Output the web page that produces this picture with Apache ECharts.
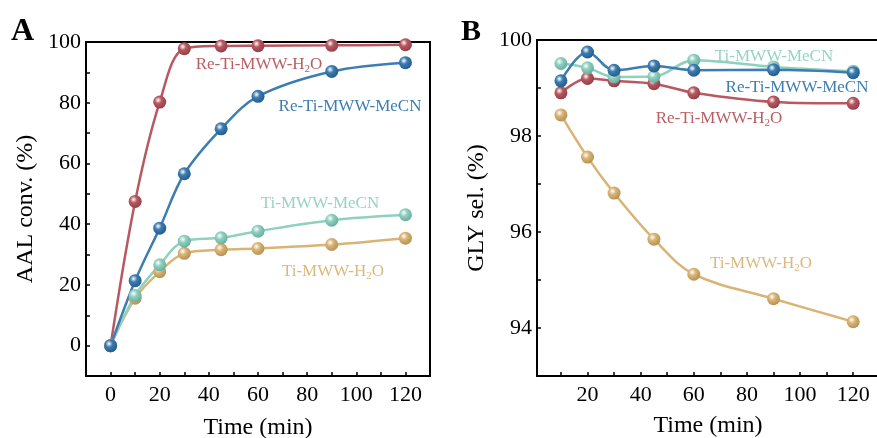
<!DOCTYPE html>
<html><head><meta charset="utf-8">
<script src="https://cdn.jsdelivr.net/npm/echarts@6/dist/echarts.min.js"></script>
<style>html,body{margin:0;padding:0;background:#fff;overflow:hidden}#c{width:877px;height:438px}</style>
</head><body><div id="c"></div>
<script>
// ---- data ----
const timeA = [0, 10, 20, 30, 45, 60, 90, 120];
const aReH2O  = [0, 47.5, 80.2, 97.8, 98.7, 98.8, 98.9, 99.1];
const aReMeCN = [0, 21.4, 38.7, 56.6, 71.4, 82.1, 90.3, 93.2];
const aTiMeCN = [0, 16.5, 26.6, 34.4, 35.5, 37.7, 41.3, 43.1];
const aTiH2O  = [0, 15.6, 24.4, 30.4, 31.6, 32.0, 33.3, 35.4];

const timeB = [10, 20, 30, 45, 60, 90, 120];
const bTiMeCN = [99.51, 99.42, 99.23, 99.24, 99.58, 99.44, 99.35];
const bReMeCN = [99.15, 99.75, 99.37, 99.46, 99.37, 99.38, 99.32];
const bReH2O  = [98.90, 99.20, 99.15, 99.09, 98.90, 98.71, 98.68];
const bTiH2O  = [98.44, 97.56, 96.81, 95.85, 95.12, 94.61, 94.13];

const xTicksA = [0, 20, 40, 60, 80, 100, 120];
const yTicksA = [0, 20, 40, 60, 80, 100];
const xTicksB = [20, 40, 60, 80, 100, 120];
const yTicksB = [94, 96, 98, 100];

// ---- styling ----
const FONT = "'Liberation Serif','Times New Roman',serif";
const C = {
  red:  {base:'#b85860', dark:'#8a3a42', text:'#b85e64'},
  blue: {base:'#3c7db2', dark:'#1f5584', text:'#3c7db2'},
  teal: {base:'#8fd0bf', dark:'#5fa898', text:'#97d3c5'},
  tan:  {base:'#d9b474', dark:'#b08a4c', text:'#dbb97d'}
};
function sphere(c){
  return {type:'radial', x:0.38, y:0.35, r:0.75, colorStops:[
    {offset:0, color:'#ffffff'}, {offset:0.35, color:c.base}, {offset:1, color:c.dark}]};
}
function zip(xs, ys){ return xs.map((x,i)=>[x, ys[i]]); }
function ser(xi, yi, xs, ys, c, smooth){
  return {type:'line', xAxisIndex:xi, yAxisIndex:yi, data:zip(xs, ys), smooth:smooth,
    symbol:'circle', symbolSize:13, showSymbol:true,
    lineStyle:{color:c.base, width:2.5}, itemStyle:{color:sphere(c), borderWidth:0},
    z:3, silent:true, animation:false};
}
function tenSteps(a, b){ const r=[]; for(let v=a; v<=b; v+=10) r.push(v); return r; }
function oneSteps(a, b){ const r=[]; for(let v=a; v<=b; v+=1) r.push(v); return r; }

const axisLine = {show:true, onZero:false, lineStyle:{color:'#000', width:2}};
const lbl = {color:'#000', fontFamily:FONT, fontSize:22};
const nameSt = {color:'#000', fontFamily:FONT, fontSize:24};

const option = {
  animation:false,
  grid:[
    {left:86, top:42, right:447, bottom:62, show:true, borderColor:'#000', borderWidth:2, outerBoundsMode:'none', containLabel:false},
    {left:537, top:40, right:-40, bottom:62, show:false, outerBoundsMode:'none', containLabel:false}
  ],
  xAxis:[
    {gridIndex:0, type:'value', min:-10, max:130, axisLine:axisLine,
     axisTick:{show:true, inside:true, length:4, lineStyle:{color:'#000', width:1.5}, customValues:tenSteps(0,120)},
     axisLabel:Object.assign({margin:8, customValues:xTicksA}, lbl),
     splitLine:{show:false}, name:'Time (min)', nameLocation:'middle', nameGap:40, nameTextStyle:nameSt},
    {gridIndex:1, type:'value', min:1, max:144, axisLine:axisLine,
     axisTick:{show:true, inside:true, length:4, lineStyle:{color:'#000', width:1.5}, customValues:tenSteps(10,120)},
     axisLabel:Object.assign({margin:8, customValues:xTicksB}, lbl),
     splitLine:{show:false}},
    {gridIndex:1, type:'value', position:'top', min:1, max:144, axisLine:axisLine,
     axisTick:{show:false}, axisLabel:{show:false}, splitLine:{show:false}}
  ],
  yAxis:[
    {gridIndex:0, type:'value', min:-10, max:100, axisLine:axisLine,
     axisTick:{show:true, inside:true, length:4, lineStyle:{color:'#000', width:1.5}, customValues:tenSteps(0,100)},
     axisLabel:Object.assign({margin:5, customValues:yTicksA}, lbl),
     splitLine:{show:false}, name:'AAL conv. (%)', nameLocation:'middle', nameGap:48, nameTextStyle:nameSt},
    {gridIndex:1, type:'value', min:93, max:100, axisLine:axisLine,
     axisTick:{show:true, inside:true, length:4, lineStyle:{color:'#000', width:1.5}, customValues:oneSteps(94,100)},
     axisLabel:Object.assign({margin:5, customValues:yTicksB}, lbl),
     splitLine:{show:false}, name:'GLY sel. (%)', nameLocation:'middle', nameGap:48, nameTextStyle:nameSt}
  ],
  series:[
    ser(0,0,timeA,aReH2O,C.red,0.35),
    ser(0,0,timeA,aTiH2O,C.tan,0.35),
    ser(0,0,timeA,aTiMeCN,C.teal,0.35),
    ser(0,0,timeA,aReMeCN,C.blue,0.35),
    ser(1,1,timeB,bTiH2O,C.tan,0.35),
    ser(1,1,timeB,bReH2O,C.red,0.35),
    ser(1,1,timeB,bTiMeCN,C.teal,0.35),
    ser(1,1,timeB,bReMeCN,C.blue,0.35)
  ]
};

function note(x, y, txt, color){
  const parts = txt.split('_2');
  let rt = parts.length>1 ? '{a|'+parts[0]+'}{s|2}{a|'+parts[1]+'}' : '{a|'+txt+'}';
  return {type:'text', x:x, y:y, z:10, silent:true,
    style:{text:rt, align:'center', verticalAlign:'middle', fill:color, fontFamily:FONT, fontSize:17,
      rich:{a:{fill:color, fontFamily:FONT, fontSize:17, color:color},
            s:{fill:color, fontFamily:FONT, fontSize:11, color:color, padding:[9,0,0,0]}}}};
}
option.graphic = [
  {type:'text', x:11, y:16, style:{text:'A', fontFamily:FONT, fontSize:32, fontWeight:'bold', fill:'#000'}},
  {type:'text', x:461, y:17, style:{text:'B', fontFamily:FONT, fontSize:30, fontWeight:'bold', fill:'#000'}},
  {type:'text', x:708, y:426, style:{text:'Time (min)', fontFamily:FONT, fontSize:24, fill:'#000', align:'center', verticalAlign:'middle'}},
  note(259, 65, 'Re-Ti-MWW-H_2O', C.red.text),
  note(350, 107, 'Re-Ti-MWW-MeCN', C.blue.text),
  note(320, 204, 'Ti-MWW-MeCN', C.teal.text),
  note(333, 272, 'Ti-MWW-H_2O', C.tan.text),
  note(774, 57, 'Ti-MWW-MeCN', C.teal.text),
  note(797, 88, 'Re-Ti-MWW-MeCN', C.blue.text),
  note(719, 119, 'Re-Ti-MWW-H_2O', C.red.text),
  note(761, 264, 'Ti-MWW-H_2O', C.tan.text)
];

const chart = echarts.init(document.getElementById('c'), null, {renderer:'canvas'});
chart.setOption(option);
</script></body></html>
